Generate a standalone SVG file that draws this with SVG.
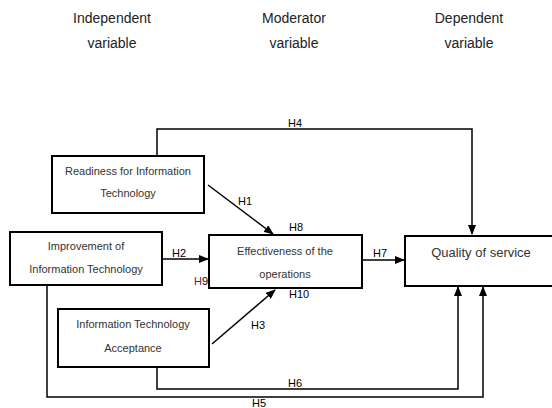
<svg xmlns="http://www.w3.org/2000/svg" width="552" height="408" viewBox="0 0 552 408">
<style>
.box{fill:#fff;stroke:#000;stroke-width:2}
.t{font-family:"Liberation Sans",Arial,sans-serif;font-size:11px;fill:#333;text-anchor:middle}
.hd{font-family:"Liberation Sans",Arial,sans-serif;font-size:14px;fill:#222;text-anchor:middle}
.q{font-family:"Liberation Sans",Arial,sans-serif;font-size:13px;fill:#333;text-anchor:middle}
.h{font-family:"Liberation Sans",Arial,sans-serif;font-size:11px;fill:#000}
.c{fill:none;stroke:#000;stroke-width:1.5}
</style>
<defs>
<marker id="ah" markerWidth="10" markerHeight="8" refX="9" refY="4" orient="auto" markerUnits="userSpaceOnUse">
<path d="M0,0 L10,4 L0,8 z" fill="#000"/>
</marker>
</defs>
<rect width="552" height="408" fill="#fff"/>
<g id="headers">
<text class="hd" x="112" y="23">Independent</text>
<text class="hd" x="112" y="48">variable</text>
<text class="hd" x="294" y="23">Moderator</text>
<text class="hd" x="294" y="48">variable</text>
<text class="hd" x="469" y="23">Dependent</text>
<text class="hd" x="469" y="48">variable</text>
</g>
<g id="connectors">
<path class="c" d="M157,156 V129 H472 V234" marker-end="url(#ah)"/>
<path class="c" d="M208,185 L273,234" marker-end="url(#ah)"/>
<path class="c" d="M162,259 H208" marker-end="url(#ah)"/>
<path class="c" d="M212,344 L275,290" marker-end="url(#ah)"/>
<path class="c" d="M362,260 H404" marker-end="url(#ah)"/>
<path class="c" d="M157,367 V389 H458 V287" marker-end="url(#ah)"/>
<path class="c" d="M47,285 V397 H483 V287" marker-end="url(#ah)"/>
<text class="h" x="288" y="127">H4</text>
<text class="h" x="238" y="205">H1</text>
<text class="h" x="289" y="231">H8</text>
<text class="h" x="172" y="257">H2</text>
<text class="h" x="194" y="285" fill="#5a1a1a"><tspan fill="#6b1f1f">H</tspan>9</text>
<text class="h" x="289" y="298">H10</text>
<text class="h" x="251" y="329">H3</text>
<text class="h" x="373" y="257">H7</text>
<text class="h" x="288" y="387">H6</text>
<text class="h" x="252" y="407">H5</text>
</g>
<g id="readiness">
<rect class="box" x="52" y="156" width="152" height="57"/>
<text class="t" x="128" y="175">Readiness for Information</text>
<text class="t" x="128" y="197">Technology</text>
</g>
<g id="improvement">
<rect class="box" x="10" y="232" width="152" height="53"/>
<text class="t" x="86" y="250">Improvement of</text>
<text class="t" x="86" y="273">Information Technology</text>
</g>
<g id="acceptance">
<rect class="box" x="58" y="309" width="151" height="58"/>
<text class="t" x="133" y="328">Information Technology</text>
<text class="t" x="133" y="352">Acceptance</text>
</g>
<g id="effectiveness">
<rect class="box" x="209" y="235" width="153" height="53"/>
<text class="t" x="285" y="255">Effectiveness of the</text>
<text class="t" x="285" y="278">operations</text>
</g>
<g id="quality">
<rect class="box" x="405" y="236" width="150" height="50"/>
<text class="q" x="481" y="257">Quality of service</text>
</g>
</svg>
